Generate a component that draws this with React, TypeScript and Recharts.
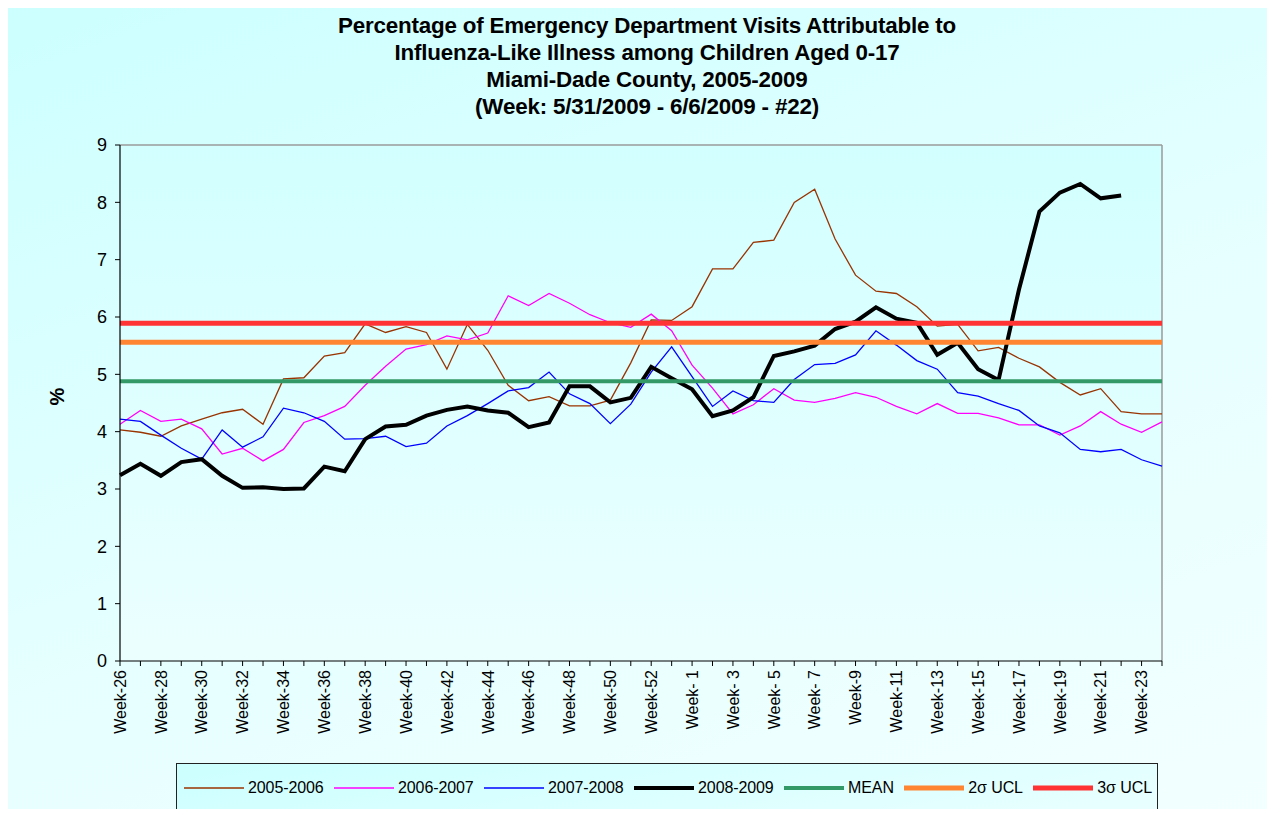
import { LineChart, Line, XAxis, YAxis, CartesianGrid, ReferenceLine } from 'recharts'

// MMWR weeks, season 2008 had a week 53
const weeks = [
  'Week-26', 'Week-27', 'Week-28', 'Week-29', 'Week-30', 'Week-31', 'Week-32', 'Week-33', 'Week-34', 'Week-35',
  'Week-36', 'Week-37', 'Week-38', 'Week-39', 'Week-40', 'Week-41', 'Week-42', 'Week-43', 'Week-44', 'Week-45',
  'Week-46', 'Week-47', 'Week-48', 'Week-49', 'Week-50', 'Week-51', 'Week-52', 'Week-53',
  'Week- 1', 'Week- 2', 'Week- 3', 'Week- 4', 'Week- 5', 'Week- 6', 'Week- 7', 'Week- 8', 'Week-9', 'Week-10',
  'Week-11', 'Week-12', 'Week-13', 'Week-14', 'Week-15', 'Week-16', 'Week-17', 'Week-18', 'Week-19', 'Week-20',
  'Week-21', 'Week-22', 'Week-23', 'Week-24',
]

const s0506 = [
  4.03, 3.99, 3.92, 4.1, 4.22, 4.33, 4.39, 4.13, 4.92, 4.94, 5.32, 5.38, 5.88, 5.73, 5.83, 5.73, 5.09, 5.87,
  5.42, 4.81, 4.54, 4.61, 4.45, 4.45, 4.55, 5.2, 5.95, 5.94, 6.18, 6.84, 6.84, 7.3, 7.34, 8.0, 8.23, 7.36,
  6.73, 6.45, 6.41, 6.18, 5.84, 5.87, 5.41, 5.47, 5.28, 5.13, 4.86, 4.64, 4.75, 4.35, 4.31, 4.31,
]
const s0607 = [
  4.13, 4.37, 4.18, 4.22, 4.05, 3.61, 3.71, 3.49, 3.69, 4.16, 4.28, 4.44, 4.81, 5.14, 5.44, 5.52, 5.67, 5.6,
  5.72, 6.37, 6.2, 6.41, 6.24, 6.04, 5.9, 5.82, 6.05, 5.76, 5.16, 4.76, 4.31, 4.47, 4.75, 4.55, 4.51, 4.58,
  4.68, 4.6, 4.44, 4.31, 4.49, 4.32, 4.32, 4.24, 4.12, 4.12, 3.94, 4.1, 4.35, 4.13, 3.99, 4.17,
]
const s0708 = [
  4.22, 4.18, 3.94, 3.71, 3.52, 4.03, 3.73, 3.91, 4.41, 4.33, 4.18, 3.87, 3.88, 3.92, 3.74, 3.8, 4.1, 4.28,
  4.49, 4.71, 4.77, 5.04, 4.66, 4.49, 4.14, 4.48, 5.04, 5.48, 4.96, 4.44, 4.71, 4.54, 4.51, 4.91, 5.17, 5.19,
  5.34, 5.76, 5.51, 5.24, 5.09, 4.68, 4.62, 4.49, 4.37, 4.1, 3.98, 3.69, 3.65, 3.69, 3.51, 3.4,
]
const s0809 = [
  3.24, 3.44, 3.23, 3.47, 3.52, 3.23, 3.02, 3.03, 3.0, 3.01, 3.39, 3.31, 3.87, 4.09, 4.12, 4.28, 4.38, 4.44,
  4.37, 4.33, 4.08, 4.16, 4.79, 4.79, 4.51, 4.59, 5.13, 4.93, 4.74, 4.27, 4.37, 4.6, 5.32, 5.4, 5.5, 5.79,
  5.92, 6.17, 5.97, 5.9, 5.34, 5.55, 5.09, 4.9, 6.48, 7.84, 8.17, 8.32, 8.07, 8.12, null, null,
]

const MEAN = 4.88
const UCL2 = 5.56
const UCL3 = 5.89
const yTicks = [0, 1, 2, 3, 4, 5, 6, 7, 8, 9]

const data = weeks.map((week, i) => ({
  week,
  s0506: s0506[i],
  s0607: s0607[i],
  s0708: s0708[i],
  s0809: s0809[i],
}))

const legendItems = [
  { name: '2005-2006', color: '#993300', width: 1.3 },
  { name: '2006-2007', color: '#FF00FF', width: 1.3 },
  { name: '2007-2008', color: '#0000FF', width: 1.3 },
  { name: '2008-2009', color: '#000000', width: 4 },
  { name: 'MEAN', color: '#339966', width: 4 },
  { name: '2σ UCL', color: '#FF8533', width: 5 },
  { name: '3σ UCL', color: '#FF3333', width: 5 },
]

const font = '"Liberation Sans", Arial, sans-serif'

const WeekTick = (props: any) => {
  const { x, y, payload, index } = props
  if (index % 2 === 1) return <g />
  return (
    <text
      x={x}
      y={y}
      transform={`rotate(-90 ${x} ${y})`}
      textAnchor="end"
      dy="0.36em"
      fontSize={16}
      fontFamily={font}
      fill="#000"
    >
      {payload.value}
    </text>
  )
}

export default function App() {
  return (
    <div
      style={{
        position: 'relative',
        width: 1275,
        height: 817,
        margin: -8,
        overflow: 'hidden',
        fontFamily: font,
        background: 'linear-gradient(160deg, #ccffff 0%, #e6ffff 55%, #f3ffff 100%)',
      }}
    >
      <div
        style={{
          position: 'absolute',
          left: 7,
          top: 0,
          width: 1300,
          height: 900,
          borderLeft: '1px solid #333',
          borderTop: '1px solid #333',
        }}
      />
      <div
        style={{
          position: 'absolute',
          top: 12,
          left: 0,
          width: 1294,
          textAlign: 'center',
          fontWeight: 'bold',
          fontSize: 22.4,
          lineHeight: '27px',
          letterSpacing: -0.2,
          color: '#000',
        }}
      >
        <div>Percentage of Emergency Department Visits Attributable to</div>
        <div>Influenza-Like Illness among Children Aged 0-17</div>
        <div>Miami-Dade County, 2005-2009</div>
        <div>(Week: 5/31/2009 - 6/6/2009 - #22)</div>
      </div>
      <div
        style={{
          position: 'absolute',
          left: 49,
          top: 385,
          fontWeight: 'bold',
          fontSize: 20,
          transform: 'rotate(-90deg)',
        }}
      >
        %
      </div>
      <LineChart
        width={1275}
        height={817}
        data={data}
        margin={{ top: 145, right: 113, left: 50, bottom: 66 }}
        style={{ position: 'absolute', left: 0, top: 0 }}
      >
        <defs>
          <linearGradient id="plotBg" x1="0" y1="0" x2="0" y2="1">
            <stop offset="0%" stopColor="#d2ffff" />
            <stop offset="100%" stopColor="#ecffff" />
          </linearGradient>
        </defs>
        <CartesianGrid horizontal={false} vertical={false} fill="url(#plotBg)" />
        <XAxis
          dataKey="week"
          interval={0}
          height={90}
          tick={<WeekTick />}
          tickSize={5}
          tickMargin={4}
          stroke="#000"
          axisLine={{ stroke: '#000', strokeWidth: 1.2 }}
          tickLine={{ stroke: '#000' }}
        />
        <YAxis
          domain={[0, 9]}
          ticks={yTicks}
          interval={0}
          width={70}
          tickSize={5}
          tickMargin={8}
          axisLine={{ stroke: '#000', strokeWidth: 1.2 }}
          tickLine={{ stroke: '#000' }}
          tick={{ fill: '#000', fontSize: 18, fontFamily: font }}
        />
        <ReferenceLine y={9} stroke="#9a9a9a" strokeWidth={1.5} />
        <ReferenceLine x={weeks[weeks.length - 1]} stroke="#9a9a9a" strokeWidth={1.5} />
        <Line dataKey="s0506" stroke="#993300" strokeWidth={1.3} dot={false} isAnimationActive={false} />
        <Line dataKey="s0607" stroke="#FF00FF" strokeWidth={1.3} dot={false} isAnimationActive={false} />
        <Line dataKey="s0708" stroke="#0000FF" strokeWidth={1.3} dot={false} isAnimationActive={false} />
        <Line dataKey="s0809" stroke="#000000" strokeWidth={4} dot={false} isAnimationActive={false} />
        <ReferenceLine y={MEAN} stroke="#339966" strokeWidth={4} />
        <ReferenceLine y={UCL2} stroke="#FF8533" strokeWidth={5} />
        <ReferenceLine y={UCL3} stroke="#FF3333" strokeWidth={5} />
      </LineChart>
      <div
        style={{
          position: 'absolute',
          left: 176,
          top: 763,
          width: 982,
          height: 54,
          border: '1px solid #222',
          background: 'linear-gradient(170deg, #ccffff 0%, #eaffff 100%)',
          boxSizing: 'border-box',
        }}
      >
        <div
          style={{
            position: 'absolute',
            left: 7,
            top: 15,
            display: 'flex',
            alignItems: 'center',
            gap: 10.4,
            fontSize: 16,
            letterSpacing: -0.1,
            whiteSpace: 'nowrap',
          }}
        >
          {legendItems.map((item) => (
            <div key={item.name} style={{ display: 'flex', alignItems: 'center', gap: 4 }}>
              <svg width={60} height={10}>
                <line x1={0} y1={5} x2={60} y2={5} stroke={item.color} strokeWidth={item.width} />
              </svg>
              <span>{item.name}</span>
            </div>
          ))}
        </div>
      </div>
    </div>
  )
}
